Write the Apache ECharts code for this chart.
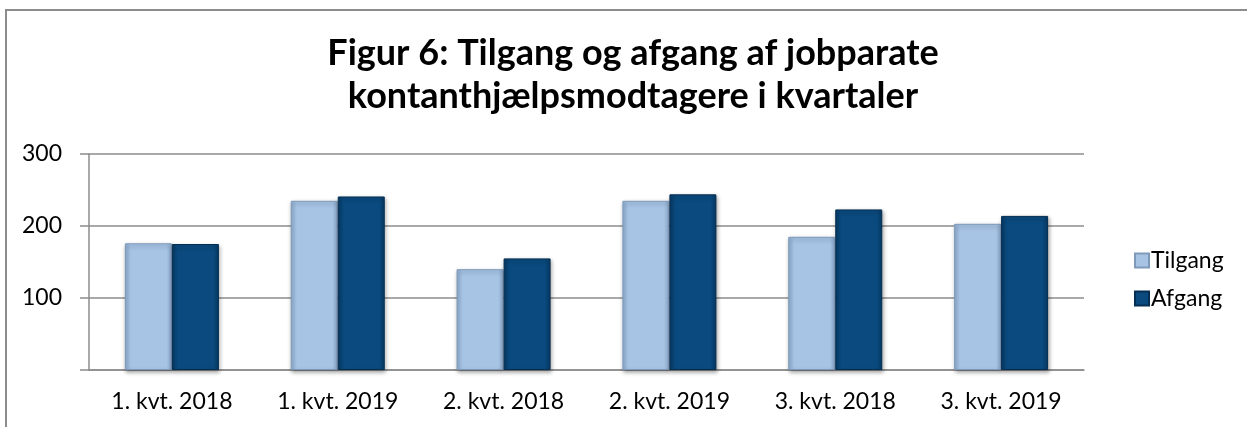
<!DOCTYPE html>
<html>
<head>
<meta charset="utf-8">
<title>Figur 6</title>
<script src="https://cdn.jsdelivr.net/npm/echarts@6/dist/echarts.min.js"></script>
<style>
  html, body { margin: 0; padding: 0; background: #fff; }
  #chart { width: 1247px; height: 427px; }
</style>
</head>
<body>
<div id="chart"></div>
<script>
// kvartaler og værdier
var categories = ['1. kvt. 2018', '1. kvt. 2019', '2. kvt. 2018', '2. kvt. 2019', '3. kvt. 2018', '3. kvt. 2019']
var tilgang = [176, 235, 140, 235, 185, 203]
var afgang = [175, 241, 155, 244, 223, 214]
var yTicks = [0, 100, 200, 300]

var font = 'Lato, "Open Sans", sans-serif'

var myChart = echarts.init(document.getElementById('chart'))

// skrå facetter på søjlerne (Excel-bevel) efterlignes med en vandret gradient
function bevel (edge, mid) {
  return new echarts.graphic.LinearGradient(0, 0, 1, 0, [
    { offset: 0, color: edge },
    { offset: 0.12, color: mid },
    { offset: 0.88, color: mid },
    { offset: 1, color: edge }
  ])
}

myChart.setOption({
  animation: false,
  backgroundColor: '#fff',
  title: {
    text: 'Figur 6: Tilgang og afgang af jobparate\nkontanthjælpsmodtagere i kvartaler',
    left: 628,
    top: 27,
    textAlign: 'center',
    textStyle: {
      fontFamily: font,
      fontWeight: 'bold',
      fontSize: 36,
      lineHeight: 43,
      color: '#000'
    }
  },
  legend: {
    orient: 'vertical',
    left: 1129,
    top: 244,
    itemWidth: 14,
    itemHeight: 14,
    itemGap: 15,
    icon: 'rect',
    textStyle: { fontFamily: font, fontSize: 23, color: '#000', padding: [0, 0, 0, -3] },
    data: ['Tilgang', 'Afgang']
  },
  grid: { left: 89, right: 163, top: 154, bottom: 57 },
  xAxis: {
    type: 'category',
    data: categories,
    axisTick: { show: false },
    axisLine: { lineStyle: { color: '#8c8c8c', width: 1.5 } },
    axisLabel: { fontFamily: font, fontSize: 23, color: '#000', margin: 20 }
  },
  yAxis: {
    type: 'value',
    min: yTicks[0],
    max: yTicks[yTicks.length - 1],
    interval: 100,
    axisLine: { show: true, lineStyle: { color: '#8c8c8c', width: 1.5 } },
    axisTick: { show: true, length: 9, lineStyle: { color: '#8c8c8c', width: 1.5 } },
    splitLine: { lineStyle: { color: '#8c8c8c', width: 1.5 } },
    axisLabel: {
      fontFamily: font,
      fontSize: 23,
      color: '#000',
      margin: 27,
      formatter: function (v) { return v === 0 ? '' : v }
    }
  },
  series: [
    {
      name: 'Tilgang',
      type: 'bar',
      data: tilgang,
      barWidth: 47,
      barGap: '0%',
      itemStyle: {
        color: bevel('#8fadd0', '#a7c4e5'),
        borderColor: '#7e9abb',
        borderWidth: 1,
        shadowColor: 'rgba(0,0,0,0.35)',
        shadowBlur: 4,
        shadowOffsetX: 1,
        shadowOffsetY: 2
      }
    },
    {
      name: 'Afgang',
      type: 'bar',
      data: afgang,
      barWidth: 47,
      itemStyle: {
        color: bevel('#063a66', '#0a4a7e'),
        borderColor: '#052f52',
        borderWidth: 1,
        shadowColor: 'rgba(0,0,0,0.35)',
        shadowBlur: 4,
        shadowOffsetX: 1,
        shadowOffsetY: 2
      }
    }
  ],
  // ramme langs top og venstre kant
  graphic: [
    {
      type: 'polyline',
      shape: { points: [[6, 427], [6, 10], [1247, 10]] },
      style: { stroke: '#8c8c8c', lineWidth: 2, fill: null }
    }
  ]
})
</script>
</body>
</html>
